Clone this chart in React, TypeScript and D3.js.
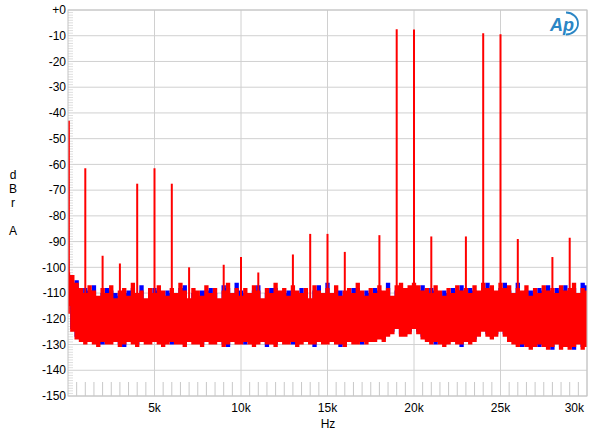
import React from "react";
import * as d3 from "d3";

const W = 600;
const H = 440;
const M = { left: 68, right: 587, top: 10, bottom: 396 };

const yTicks = [0, -10, -20, -30, -40, -50, -60, -70, -80, -90, -100, -110, -120, -130, -140, -150];
const yTickLabels = ["+0", "-10", "-20", "-30", "-40", "-50", "-60", "-70", "-80", "-90", "-100", "-110", "-120", "-130", "-140", "-150"];
const xTicks = [5000, 10000, 15000, 20000, 25000, 30000];
const xTickLabels = ["5k", "10k", "15k", "20k", "25k", "30k"];

// FFT noise floor, read per 250 Hz bin (0 .. 30 kHz): upper and lower extent of each trace
const binHz = d3.range(0, 30001, 250);
const redHigh = [
  -102, -103, -106, -108, -110, -107, -109, -111, -108, -110,
  -107, -112, -109, -108, -111, -106, -110, -109, -112, -108,
  -110, -107, -109, -111, -108, -110, -106, -109, -112, -108,
  -109, -111, -107, -110, -108, -112, -109, -106, -110, -108,
  -111, -108, -110, -107, -109, -112, -108, -110, -106, -109,
  -108, -111, -107, -109, -110, -108, -112, -107, -109, -110,
  -108, -110, -107, -111, -109, -108, -110, -106, -109, -111,
  -108, -110, -107, -109, -108, -111, -107, -106, -108, -107,
  -106, -107, -109, -108, -110, -107, -109, -111, -108, -110,
  -107, -109, -108, -110, -107, -109, -106, -108, -107, -109,
  -106, -108, -107, -110, -108, -109, -107, -111, -108, -110,
  -107, -109, -108, -110, -107, -109, -108, -106, -110, -108,
  -109,
];
const redLow = [
  -115, -125, -128, -129, -130, -129, -130, -131, -129, -130,
  -130, -129, -131, -130, -129, -130, -131, -129, -130, -130,
  -129, -130, -131, -130, -129, -130, -130, -131, -129, -130,
  -130, -131, -129, -130, -130, -129, -131, -130, -129, -130,
  -130, -129, -130, -131, -130, -129, -130, -130, -131, -129,
  -130, -130, -129, -131, -130, -129, -130, -130, -129, -130,
  -130, -129, -130, -130, -131, -129, -130, -130, -129, -130,
  -129, -129, -128, -129, -127, -126, -124, -127, -127, -126,
  -124, -126, -128, -129, -130, -129, -130, -131, -130, -129,
  -130, -130, -129, -130, -129, -127, -125, -127, -128, -127,
  -125, -127, -129, -130, -131, -130, -131, -132, -131, -130,
  -131, -132, -131, -130, -132, -131, -132, -131, -130, -132,
  -131,
];
const blueHigh = [
  -104, -106, -105, -110, -108, -109, -107, -113, -110, -108,
  -109, -110, -111, -110, -109, -108, -112, -107, -113, -110,
  -108, -109, -111, -109, -110, -112, -108, -107, -113, -110,
  -111, -109, -109, -108, -110, -113, -107, -108, -112, -106,
  -109, -110, -112, -109, -107, -113, -110, -108, -108, -111,
  -110, -109, -109, -111, -108, -110, -113, -109, -107, -112,
  -106, -112, -109, -109, -111, -110, -108, -108, -111, -109,
  -110, -108, -109, -111, -106, -113, -109, -108, -110, -109,
  -108, -109, -107, -110, -108, -109, -111, -109, -110, -108,
  -109, -107, -110, -108, -109, -111, -108, -106, -109, -111,
  -108, -106, -109, -112, -106, -111, -109, -109, -110, -108,
  -109, -107, -110, -108, -109, -107, -110, -108, -112, -106,
  -107,
];
const blueLow = [
  -114, -124, -127, -128, -129, -128, -129, -130, -130, -129,
  -129, -128, -130, -131, -128, -129, -130, -128, -129, -129,
  -128, -129, -130, -129, -130, -129, -129, -130, -128, -129,
  -129, -130, -128, -129, -129, -128, -130, -131, -128, -129,
  -129, -130, -129, -130, -129, -128, -131, -129, -130, -128,
  -129, -129, -130, -130, -129, -128, -129, -131, -128, -129,
  -129, -128, -129, -131, -130, -128, -129, -129, -130, -129,
  -128, -128, -127, -128, -126, -125, -123, -126, -126, -125,
  -123, -125, -127, -128, -129, -130, -129, -130, -129, -128,
  -129, -131, -128, -129, -128, -126, -124, -126, -127, -126,
  -124, -126, -128, -129, -130, -131, -130, -131, -130, -131,
  -130, -131, -132, -129, -131, -130, -131, -132, -129, -131,
  -130,
];

// discrete tones and intermodulation products (red trace)
const spikeHz = [50, 1000, 2000, 3000, 4000, 5000, 6000, 7000, 9000, 10000, 11000, 13000, 14000, 15000, 16000, 18000, 19000, 20000, 21000, 23000, 24000, 25000, 26000, 28000, 29000];
const spikeDb = [-43, -61.5, -95.5, -98.5, -67.5, -61.5, -67.5, -100, -99, -96, -102, -95, -87, -87, -94, -87.5, -7.5, -7.6, -88, -88, -9.0, -9.4, -89, -96, -88.5];

const FONT = "'Liberation Sans', Arial, Helvetica, sans-serif";

export default function App() {
  const x = d3.scaleLinear().domain([0, 30000]).range([M.left, M.right]);
  const y = d3.scaleLinear().domain([-150, 0]).range([M.bottom, M.top]);

  const band = (hi: number[], lo: number[]) =>
    d3
      .area<number>()
      .x((_, i) => x(binHz[i]))
      .y0((_, i) => y(lo[i]))
      .y1((d) => y(d))
      .curve(d3.curveStep)(hi) || "";

  const minorY = d3.range(-149, 0, 1).filter((v) => v % 10 !== 0);
  const minorX = d3.range(500, 30000, 500).filter((v) => v % 5000 !== 0);

  return (
    <svg
      width={W}
      height={H}
      style={{ position: "absolute", left: 0, top: 0, background: "#fff" }}
      fontFamily={FONT}
    >
      <defs>
        <clipPath id="plotClip">
          <rect x={M.left} y={M.top} width={M.right - M.left} height={M.bottom - M.top} />
        </clipPath>
      </defs>
      <rect x={0} y={0} width={W} height={H} fill="#fff" />

      {/* minor ticks */}
      {minorY.map((v) => (
        <line key={"my" + v} x1={M.left} x2={M.left + 5} y1={y(v)} y2={y(v)} stroke="#d6d6d6" strokeWidth={0.8} />
      ))}
      {minorX.map((v) => (
        <line key={"mx" + v} x1={x(v)} x2={x(v)} y1={M.bottom} y2={M.bottom - 14} stroke="#c8c8c8" strokeWidth={1} />
      ))}

      {/* gridlines */}
      {yTicks.map((v) => (
        <line key={"gy" + v} x1={M.left} x2={M.right} y1={y(v)} y2={y(v)} stroke="#d0d0d0" strokeWidth={1} />
      ))}
      {xTicks.map((v) => (
        <line key={"gx" + v} x1={x(v)} x2={x(v)} y1={M.top} y2={M.bottom} stroke="#d0d0d0" strokeWidth={1} />
      ))}

      {/* data */}
      <g clipPath="url(#plotClip)">
        <path d={band(blueHigh, blueLow)} fill="#0000ff" stroke="none" />
        <path d={band(redHigh, redLow)} fill="#ff0000" stroke="none" />
        {spikeHz.map((f, i) => (
          <line key={"s" + f} x1={x(f)} x2={x(f)} y1={y(-118)} y2={y(spikeDb[i])} stroke="#ff0000" strokeWidth={2} />
        ))}
      </g>

      {/* frame */}
      <rect x={M.left} y={M.top} width={M.right - M.left} height={M.bottom - M.top} fill="none" stroke="#c4c4c4" strokeWidth={1} />

      {/* y tick labels */}
      {yTicks.map((v, i) => (
        <text key={"ty" + v} x={M.left - 2} y={y(v)} dy="0.35em" textAnchor="end" fontSize={12} fill="#000">
          {yTickLabels[i]}
        </text>
      ))}
      {/* x tick labels */}
      {xTicks.map((v, i) => (
        <text
          key={"tx" + v}
          x={i === xTicks.length - 1 ? x(v) - 3 : x(v)}
          y={412}
          textAnchor={i === xTicks.length - 1 ? "end" : "middle"}
          fontSize={12}
          fill="#000"
        >
          {xTickLabels[i]}
        </text>
      ))}

      <text x={328} y={428} textAnchor="middle" fontSize={12} fill="#000">Hz</text>

      {/* vertical y-axis title */}
      {["d", "B", "r", "", "A"].map((c, i) => (
        <text key={"yl" + i} x={13} y={179 + i * 14} textAnchor="middle" fontSize={12} fill="#000">
          {c}
        </text>
      ))}

      {/* AP logo */}
      <g>
        <text x={550} y={31} fontSize={18} fontStyle="italic" fontWeight="bold" fill="#2b86c5" fontFamily={FONT}>
          Ap
        </text>
        <path d="M 566 12.5 A 12 11 0 0 1 566 34.5" fill="none" stroke="#2b86c5" strokeWidth={1.8} />
      </g>
    </svg>
  );
}
